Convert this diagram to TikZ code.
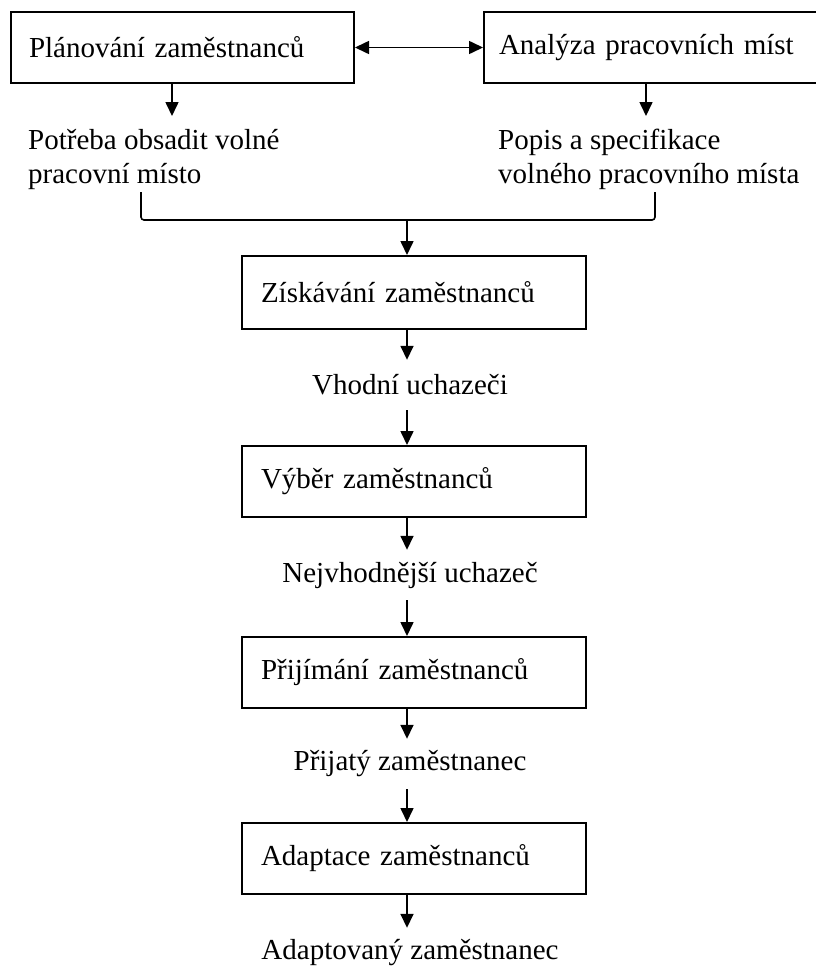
\documentclass[tikz,border=0pt]{standalone}
\usepackage{fontspec}
\setmainfont{Liberation Serif}
\usetikzlibrary{arrows.meta}
\tikzset{
  box/.style={draw, line width=2pt, anchor=north west, minimum height=71pt,
    inner xsep=19pt, text width=306pt, align=left},
  lbl/.style={minimum height=50pt, inner sep=0pt},
  note/.style={anchor=north west, align=left, inner xsep=0pt, inner ysep=13pt},
  flow/.style={line width=1.6pt, -{Triangle[width=13pt,length=14pt]}},
  both/.style={line width=1.6pt, {Triangle[width=13pt,length=14pt]}-{Triangle[width=13pt,length=14pt]}},
}
\begin{document}
\begin{tikzpicture}[x=1pt, y=1pt, font=\fontsize{29}{34}\selectfont]
	\useasboundingbox (0,0) rectangle (816,-967);
	\coordinate (spine) at (407,0);
	\coordinate (pl) at (172,0);
	\coordinate (ar) at (646,0);
	% top row
	\node[box, inner xsep=18pt, text width=307pt] (plan) at (10,-11) {Plánování zaměstnanců};
	\node[box, inner xsep=15pt, text width=320pt] (anal) at (483,-11) {Analýza pracovních míst};
	\draw[both] (plan) -- (anal);
	\node[note] (potr) at (28,-116) {Potřeba obsadit volné\\pracovní místo};
	\node[note] (popis) at (498,-116) {Popis a specifikace\\volného pracovního místa};
	\draw[flow] (plan.south -| pl) -- (potr.north -| pl);
	\draw[flow] (anal.south -| ar) -- (popis.north -| ar);
	% bracket
	\coordinate (brkL) at (141,-192);
	\coordinate (brkR) at (655,-192);
	\coordinate (brk) at (407,-220);
	\draw[line width=1.6pt, rounded corners=3pt] (brkL) |- (brk) -- (brkR |- brk) -- (brkR);
	% stages
	\node[box, minimum height=73pt] (zisk) at (241,-255) {Získávání zaměstnanců};
	\node[lbl] (vhod) at (410,-385) {Vhodní uchazeči};
	\node[box] (vyber) at (241,-445) {Výběr zaměstnanců};
	\node[lbl] (nejv) at (410,-575) {Nejvhodnější uchazeč};
	\node[box] (prij) at (241,-636) {Přijímání zaměstnanců};
	\node[lbl] (prja) at (410,-764) {Přijatý zaměstnanec};
	\node[box] (adap) at (241,-822) {Adaptace zaměstnanců};
	\node[lbl] (adpt) at (410,-953) {Adaptovaný zaměstnanec};
	\draw[flow] (brk) -- (zisk.north -| spine);
	\foreach \a/\b in {zisk/vhod, vhod/vyber, vyber/nejv, nejv/prij, prij/prja, prja/adap, adap/adpt}
		\draw[flow] (\a.south -| spine) -- (\b.north -| spine);
\end{tikzpicture}
\end{document}
